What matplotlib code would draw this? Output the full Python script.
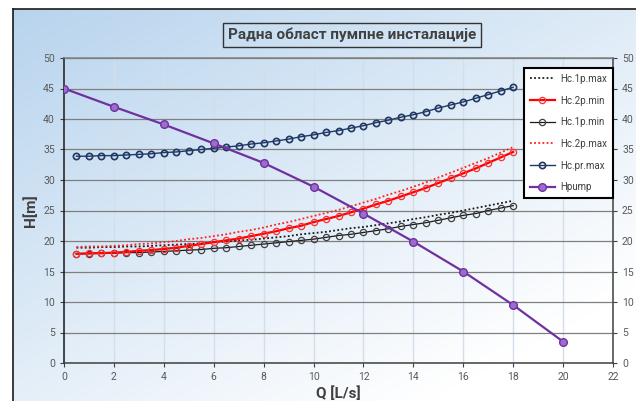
import numpy as np
import matplotlib.pyplot as plt

# Q values for the system curves (L/s)
q_sys = [0.5, 1.0, 1.5, 2.0, 2.5, 3.0, 3.5, 4.0, 4.5, 5.0, 5.5, 6.0,
         6.5, 7.0, 7.5, 8.0, 8.5, 9.0, 9.5, 10.0, 10.5, 11.0, 11.5, 12.0,
         12.5, 13.0, 13.5, 14.0, 14.5, 15.0, 15.5, 16.0, 16.5, 17.0, 17.5, 18.0]

hc_1p_max = [18.9, 18.9, 19.0, 19.0, 19.1, 19.1, 19.2, 19.3, 19.4, 19.5, 19.6, 19.8,
             19.9, 20.1, 20.2, 20.4, 20.6, 20.8, 21.1, 21.3, 21.5, 21.8, 22.1, 22.3,
             22.6, 22.9, 23.2, 23.6, 23.9, 24.3, 24.6, 25.0, 25.4, 25.8, 26.2, 26.6]

hc_2p_min = [17.9, 18.0, 18.0, 18.1, 18.2, 18.4, 18.5, 18.7, 18.9, 19.2, 19.5, 19.8,
             20.1, 20.4, 20.8, 21.2, 21.6, 22.1, 22.5, 23.1, 23.6, 24.1, 24.7, 25.3,
             26.0, 26.6, 27.3, 28.0, 28.7, 29.5, 30.3, 31.1, 31.9, 32.8, 33.7, 34.6]

hc_1p_min = [17.9, 17.9, 18.0, 18.0, 18.1, 18.1, 18.2, 18.3, 18.4, 18.5, 18.6, 18.8,
             18.9, 19.1, 19.3, 19.5, 19.7, 19.9, 20.1, 20.3, 20.6, 20.9, 21.1, 21.4,
             21.7, 22.0, 22.4, 22.7, 23.0, 23.4, 23.8, 24.2, 24.5, 25.0, 25.4, 25.8]

hc_2p_max = [19.0, 19.1, 19.1, 19.2, 19.3, 19.5, 19.6, 19.8, 20.0, 20.3, 20.5, 20.8,
             21.1, 21.5, 21.8, 22.2, 22.7, 23.1, 23.6, 24.1, 24.6, 25.1, 25.7, 26.3,
             26.9, 27.6, 28.2, 28.9, 29.6, 30.4, 31.2, 32.0, 32.8, 33.6, 34.5, 35.4]

hc_pr_max = [33.9, 33.9, 34.0, 34.0, 34.1, 34.2, 34.3, 34.5, 34.6, 34.8, 35.0, 35.2,
             35.4, 35.6, 35.9, 36.1, 36.4, 36.7, 37.1, 37.4, 37.8, 38.1, 38.5, 38.9,
             39.4, 39.8, 40.3, 40.7, 41.2, 41.8, 42.3, 42.8, 43.4, 44.0, 44.6, 45.2]

# pump curve
q_pump = [0, 2, 4, 6, 8, 10, 12, 14, 16, 18, 20]
h_pump = [45.0, 42.0, 39.1, 36.0, 32.8, 28.9, 24.5, 19.9, 15.0, 9.5, 3.5]

FONT = ['Roboto', 'DejaVu Sans']
plt.rcParams['font.family'] = FONT

W, H = 636, 401
fig = plt.figure(figsize=(W / 100, H / 100), dpi=100)
fig.patch.set_facecolor('white')

# gradient background of the chart area (light blue top-left -> white bottom-right)
bx0, by1 = 13 / W, 1 - 9 / H
bg = fig.add_axes([bx0, 0, 1 - bx0, by1], zorder=0)
gx, gy = np.meshgrid(np.linspace(0, 1, 300), np.linspace(0, 1, 200))
t = np.clip((gx * 0.6 + gy * 0.7) / 1.1, 0, 1)
top = np.array([0.72, 0.83, 0.93])
img = top[None, None, :] * (1 - t[..., None]) + np.ones(3)[None, None, :] * t[..., None]
bg.imshow(img, aspect='auto', extent=[0, 1, 0, 1], origin='upper')
bg.set_xticks([])
bg.set_yticks([])
for s in ['right', 'bottom']:
    bg.spines[s].set_visible(False)
for s in ['left', 'top']:
    bg.spines[s].set_color('#1a1a1a')
    bg.spines[s].set_linewidth(1.2)

ax = fig.add_axes([64 / W, 1 - 363 / H, (613 - 64) / W, (363 - 58) / H], zorder=1)
ax.patch.set_alpha(0)

ax.plot(q_sys, hc_1p_max, ls=(0, (1, 1.3)), color='#1a1a1a', lw=1.3, label='Hc.1p.max', zorder=3)
ax.plot(q_sys, hc_2p_min, color='#ff0000', lw=1.6, marker='o', ms=4.5, mfc='none',
        mec='#ff3030', mew=0.9, label='Hc.2p.min', zorder=4)
ax.plot(q_sys, hc_1p_min, color='#1a1a1a', lw=0.9, marker='o', ms=4.5, mfc='none',
        mec='#404040', mew=0.9, label='Hc.1p.min', zorder=3)
ax.plot(q_sys, hc_2p_max, ls=(0, (1, 1.3)), color='#ff2020', lw=1.3, label='Hc.2p.max', zorder=3)
ax.plot(q_sys, hc_pr_max, color='#1f3864', lw=1.0, marker='o', ms=4.5, mfc='none',
        mec='#1f3864', mew=1.2, label='Hc.pr.max', zorder=3)
ax.plot(q_pump, h_pump, color='#7030a0', lw=1.6, marker='o', ms=5.5, mfc='#9b6dcc',
        mec='#7030a0', mew=1.0, label='Hpump', zorder=5)

ax.set_xlim(0, 22)
ax.set_ylim(0, 50)
ax.set_xticks(range(0, 23, 2))
ax.set_yticks(range(0, 51, 5))
ax.grid(axis='y', color='#7f7f7f', lw=0.9, zorder=1)
ax.grid(axis='x', color='#d3deea', lw=1.0, zorder=1)
ax.set_axisbelow(True)
ax.tick_params(labelsize=7.5, colors='#595959', length=3, width=0.8,
               labelright=True, right=True)
ax.tick_params(axis='both', which='both', color='#404040')
ax.spines['left'].set_color('#1a1a1a')
ax.spines['bottom'].set_color('#404040')
ax.spines['right'].set_color('#404040')
ax.spines['top'].set_color('#808080')
for s in ax.spines.values():
    s.set_linewidth(1.1)

ax.set_ylabel('H[m]', fontsize=11, fontweight='bold', color='#404040', labelpad=4)
ax.set_xlabel('Q [L/s]', fontsize=11, fontweight='bold', color='#404040', labelpad=3)

leg = ax.legend(loc='upper left', bbox_to_anchor=((524 - 64) / (613 - 64), 1 - (68 - 58) / 305),
                fontsize=7.0, frameon=True, fancybox=False, handlelength=2.6,
                labelspacing=1.2, borderpad=0.6, handletextpad=0.5, labelcolor='#404040',
                borderaxespad=0)
leg.get_frame().set_edgecolor('#000000')
leg.get_frame().set_linewidth(1.5)
leg.get_frame().set_facecolor('white')
leg.get_frame().set_alpha(1)

fig.text(352 / W, 1 - 35 / H, 'Радна област пумпне инсталације', ha='center', va='center',
         fontsize=11, fontweight='bold', color='#404040',
         bbox=dict(boxstyle='square,pad=0.3', fc='none', ec='#333333', lw=1.0), zorder=3)

fig.savefig('out.png', dpi=100)
